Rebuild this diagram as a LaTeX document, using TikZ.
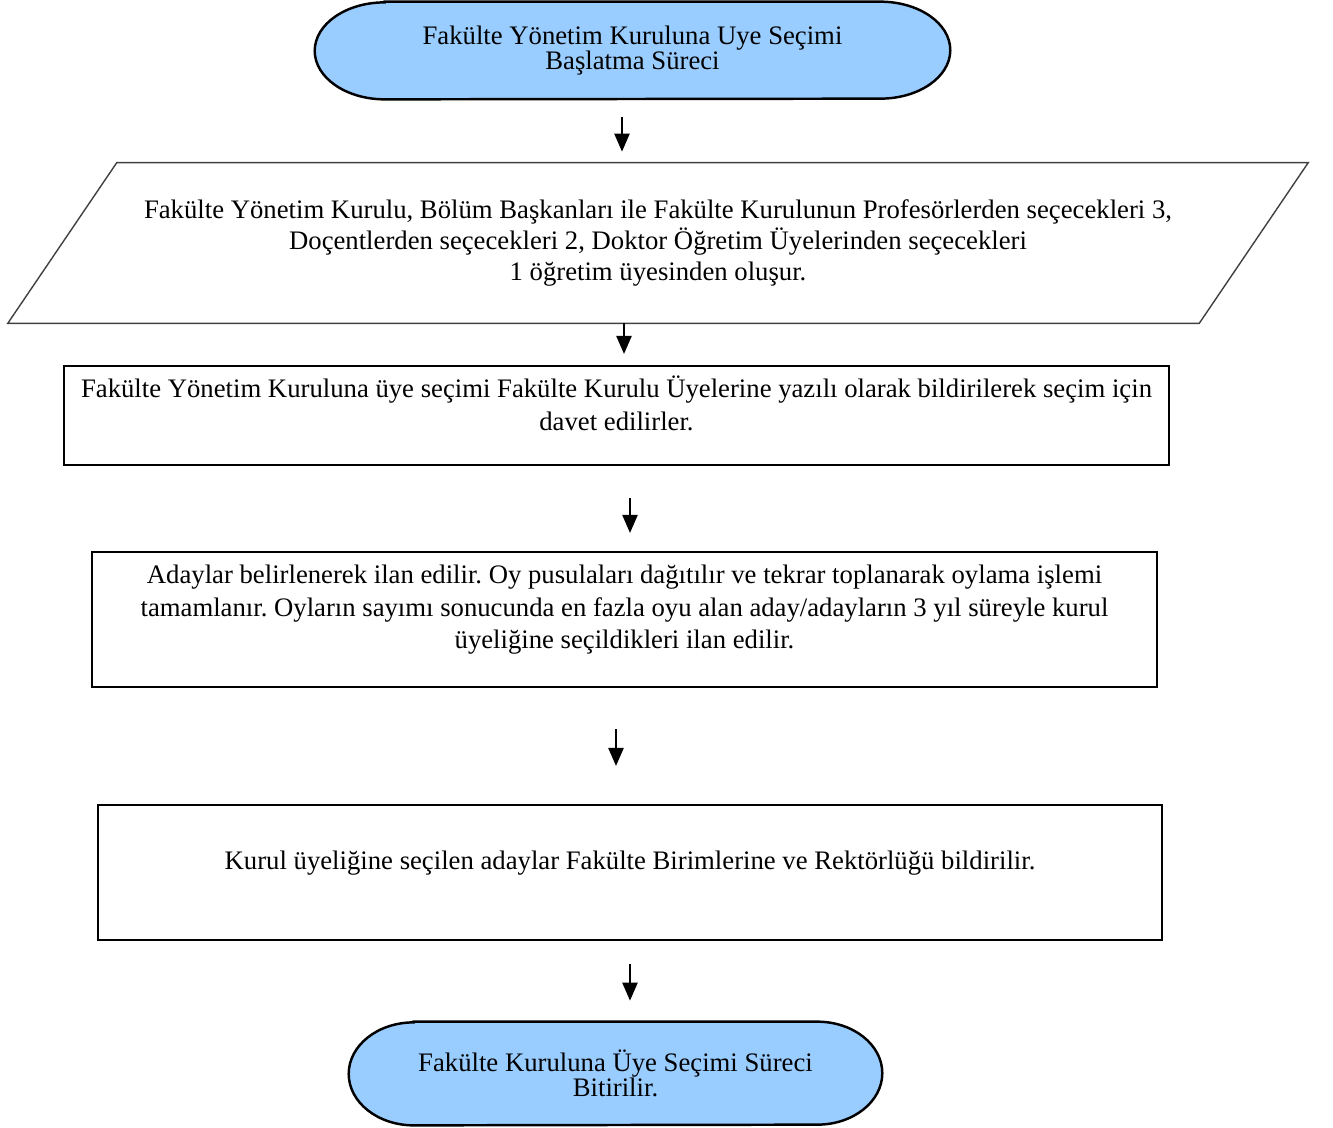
\documentclass[tikz,border=0pt]{standalone}
\usepackage{fontspec}
\setmainfont{Liberation Serif}
\usetikzlibrary{arrows.meta,calc,backgrounds}
\definecolor{termblue}{HTML}{99CCFF}
\frenchspacing
\begin{document}
\begin{tikzpicture}[x=0.02cm, y=-0.02cm,
  every node/.style={font=\fontsize{15.2}{18.5}\selectfont, align=center, inner sep=0pt},
  termtext/.style={font=\fontsize{15.2}{14.2}\selectfont},
  box/.style={draw, line width=1.2pt, text depth=14pt},
  termline/.style={draw, fill=termblue, line width=1.4pt},
  flow/.style={line width=1.3pt, -{Triangle[length=0.36cm, width=0.3cm]}}]
\useasboundingbox (0,0) rectangle (1333,1127);
%start and end
\node[termtext, minimum width=12.7cm, minimum height=1.94cm] (start) at (632.5,50.5)
  {Fakülte Yönetim Kuruluna Uye Seçimi\\Başlatma Süreci};
\node[termtext, minimum width=10.66cm, minimum height=2.06cm] (finish) at (615.5,1073.5)
  {Fakülte Kuruluna Üye Seçimi Süreci\\Bitirilir.};
\begin{scope}[on background layer]
\foreach \t/\rx/\ry in {start/1.4cm/0.97cm, finish/1.3cm/1.03cm}
  \draw[termline] ([xshift=\rx]\t.north west) -- ([xshift=-\rx]\t.north east)
    arc[start angle=90, end angle=-90, x radius=\rx, y radius=\ry]
    -- ([xshift=\rx]\t.south west)
    arc[start angle=-90, end angle=-270, x radius=\rx, y radius=\ry] -- cycle;
\end{scope}
%parallelogram
\node[font=\fontsize{15.2}{17.6}\selectfont, minimum width=23.82cm, minimum height=3.2cm] (rules) at (658,243)
  {Fakülte Yönetim Kurulu, Bölüm Başkanları ile Fakülte Kurulunun Profesörlerden seçecekleri 3,\\
   Doçentlerden seçecekleri 2, Doktor Öğretim Üyelerinden seçecekleri\\
   1 öğretim üyesinden oluşur.};
\draw[line width=0.8pt, black!75] ([xshift=1.09cm]rules.north west) -- ([xshift=1.09cm]rules.north east)
  -- ([xshift=-1.09cm]rules.south east) -- ([xshift=-1.09cm]rules.south west) -- cycle;
%boxes
\node[box, minimum width=22.1cm, minimum height=1.98cm] (invite) at (616.5,415.5)
  {Fakülte Yönetim Kuruluna üye seçimi Fakülte Kurulu Üyelerine yazılı olarak bildirilerek seçim için\\
   davet edilirler.};
\node[box, minimum width=21.3cm, minimum height=2.7cm] (vote) at (624.5,619.5)
  {Adaylar belirlenerek ilan edilir. Oy pusulaları dağıtılır ve tekrar toplanarak oylama işlemi\\
   tamamlanır. Oyların sayımı sonucunda en fazla oyu alan aday/adayların 3 yıl süreyle kurul\\
   üyeliğine seçildikleri ilan edilir.};
\node[box, minimum width=21.28cm, minimum height=2.7cm] (notify) at (630,872.5)
  {Kurul üyeliğine seçilen adaylar Fakülte Birimlerine ve Rektörlüğü bildirilir.};
%arrows
\draw[flow] ($(start.south)+(-10.5,18)$) -- ($(start.south |- rules.north)+(-10.5,-11)$);
\draw[flow] ($(rules.south)+(-34,0)$) -- ($(rules.south |- invite.north)+(-34,-11)$);
\draw[flow] ($(invite.south)+(13.5,32)$) -- ($(invite.south |- vote.north)+(13.5,-18)$);
\draw[flow] ($(vote.south)+(-8.5,41)$) -- ($(vote.south |- notify.north)+(-8.5,-38)$);
\draw[flow] ($(notify.south)+(0,23)$) -- ($(notify.south |- finish.north)+(0,-21)$);
\end{tikzpicture}
\end{document}
